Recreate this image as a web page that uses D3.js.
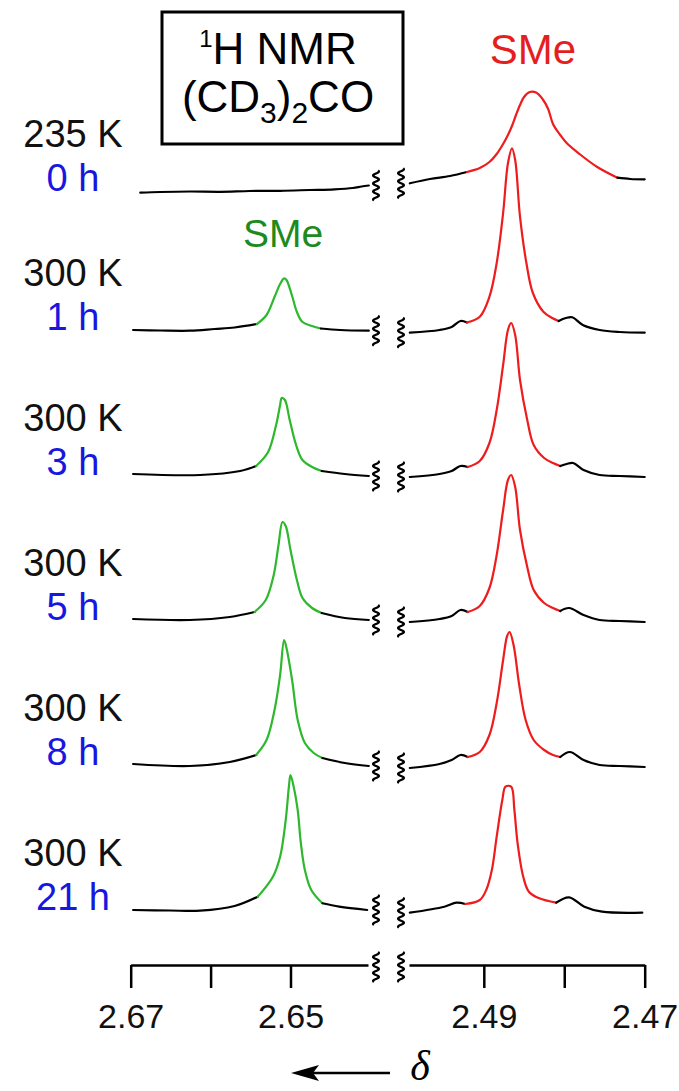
<!DOCTYPE html>
<html>
<head>
<meta charset="utf-8">
<script src="https://cdn.jsdelivr.net/npm/d3@7"></script>
<style>
  html, body { margin: 0; padding: 0; background: #fff; }
  svg { display: block; }
</style>
</head>
<body>
<svg id="chart" width="679" height="1091"></svg>
<script>
// ---- data -----------------------------------------------------------
// Row labels (top to bottom)
const temps = ["235 K", "300 K", "300 K", "300 K", "300 K", "300 K"];
const times = ["0 h", "1 h", "3 h", "5 h", "8 h", "21 h"];

// Axis ticks (ppm) and which of them carry a label
const leftTicks = [2.67, 2.66, 2.65];
const rightTicks = [2.49, 2.48, 2.47];
const labeledTicks = [2.67, 2.65, 2.49, 2.47];

// Spectra: [delta (ppm), intensity (a.u.)], low-field window
const left0 = [[2.6688,-0.7],[2.6663,0],[2.6626,0.5],[2.6588,0.2],[2.6551,1],[2.6513,1.2],[2.6476,2],[2.6445,2.7],[2.6422,4],[2.6411,5.5],[2.6402,6.5]];
const left1 = [[2.6697,1],[2.6663,0.5],[2.6626,0.3],[2.6595,2],[2.6570,3.5],[2.6542,7],[2.6530,16],[2.6520,34],[2.6513,47],[2.6508,52.7],[2.6505,51],[2.6498,35],[2.6492,19],[2.6485,9],[2.6473,5],[2.6462,2.5],[2.6438,1],[2.6402,0.3]];
const left2 = [[2.6697,2],[2.6613,1],[2.6563,5],[2.6543,10],[2.6528,24],[2.6518,51],[2.6513,71],[2.6511,78],[2.6507,76],[2.6501,56],[2.6493,31],[2.6485,16],[2.6473,9],[2.6461,5],[2.6432,2],[2.6402,0]];
const left3 = [[2.6697,2],[2.6626,1],[2.6576,4],[2.6545,9],[2.6531,21],[2.6521,46],[2.6515,76],[2.6510,99],[2.6506,95],[2.6500,71],[2.6492,41],[2.6485,23],[2.6473,13],[2.6461,8],[2.6432,3],[2.6402,1]];
const left4 = [[2.6697,2],[2.6626,0],[2.6576,4],[2.6543,11],[2.6530,26],[2.6520,56],[2.6513,91],[2.6508,126],[2.6505,118],[2.6498,86],[2.6491,46],[2.6482,23],[2.6471,13],[2.6460,8],[2.6432,3],[2.6402,0]];
const left5 = [[2.6697,1],[2.6651,0.5],[2.6613,0.3],[2.6570,5],[2.6541,14.3],[2.6522,34.3],[2.6513,54.3],[2.6506,91],[2.6502,124.3],[2.6500,136],[2.6496,124.3],[2.6491,101],[2.6487,67.7],[2.6482,41],[2.6474,21],[2.6460,7.7],[2.6439,4.3],[2.6404,1]];

// Spectra: high-field window
const right0 = [[2.4992,8.7],[2.4967,13],[2.4942,16],[2.4921,20],[2.4905,24],[2.4893,30],[2.4884,38],[2.4876,48],[2.4870,57],[2.4865,66],[2.4860,77],[2.4855,87],[2.4850,95],[2.4843,100],[2.4835,99.5],[2.4827,93],[2.4820,83],[2.4814,68],[2.4805,57],[2.4797,49],[2.4781,38],[2.4759,25],[2.4734,14.3],[2.4718,13],[2.4700,12.7]];
const right1 = [[2.4992,-1.7],[2.4955,1],[2.4940,4],[2.4929,10],[2.4921,8.5],[2.4905,14.3],[2.4893,34.3],[2.4884,68],[2.4876,118],[2.4870,167.7],[2.4865,182.7],[2.4861,171],[2.4855,114.3],[2.4847,67.7],[2.4839,38],[2.4826,19.3],[2.4815,13],[2.4807,10],[2.4798,13],[2.4790,13.7],[2.4777,6],[2.4756,1],[2.4731,-1],[2.4700,-1.7]];
const right2 = [[2.4992,-1],[2.4955,2],[2.4940,5],[2.4929,10],[2.4920,9],[2.4905,15],[2.4893,33],[2.4884,66],[2.4876,111],[2.4870,146],[2.4866,153],[2.4861,141],[2.4855,96],[2.4846,56],[2.4838,31],[2.4825,18],[2.4814,13],[2.4805,10],[2.4797,12],[2.4789,13],[2.4776,6],[2.4756,1],[2.4731,0],[2.4700,-1]];
const right3 = [[2.4992,-1],[2.4955,2],[2.4940,5],[2.4929,11],[2.4920,9],[2.4905,15],[2.4893,33],[2.4884,66],[2.4876,111],[2.4870,141],[2.4866,146],[2.4861,134],[2.4855,91],[2.4846,54],[2.4838,31],[2.4825,18],[2.4814,13],[2.4805,10],[2.4794,13],[2.4776,6],[2.4756,1],[2.4731,0],[2.4700,-1]];
const right4 = [[2.4992,-2],[2.4955,2],[2.4940,6],[2.4929,11],[2.4920,9],[2.4905,14],[2.4893,31],[2.4884,63],[2.4876,106],[2.4871,130],[2.4868,134],[2.4863,121],[2.4856,81],[2.4848,46],[2.4838,26],[2.4825,16],[2.4814,11],[2.4805,9],[2.4793,14],[2.4776,6],[2.4756,1],[2.4731,0],[2.4700,-1]];
const right5 = [[2.4992,-1.7],[2.4949,4.3],[2.4934,8.3],[2.4923,7],[2.4905,11],[2.4897,21],[2.4890,41],[2.4884,74.3],[2.4877,111],[2.4873,124.3],[2.4866,124.3],[2.4862,101],[2.4858,67.7],[2.4851,34.3],[2.4844,19.3],[2.4831,12.7],[2.4810,8.3],[2.4794,13.7],[2.4775,4.3],[2.4753,-0.7],[2.4703,-1.7]];

// Extent (ppm) of each assigned SMe resonance
const greenRanges = [null, [2.6542,2.6462], [2.6543,2.6461], [2.6545,2.6461], [2.6543,2.6460], [2.6541,2.6460]];
const redRanges = [[2.4921,2.4734], [2.4921,2.4807], [2.4920,2.4805], [2.4920,2.4805], [2.4920,2.4805], [2.4923,2.4810]];

const leftSpectra = [left0, left1, left2, left3, left4, left5];
const rightSpectra = [right0, right1, right2, right3, right4, right5];

// ---- layout ---------------------------------------------------------
const FONT = "'Liberation Sans', Arial, Helvetica, sans-serif";
const GREEN = "#2db82d", RED = "#ee1c1c", BLUE = "#1717e0";
const svg = d3.select("#chart");

const xL = d3.scaleLinear().domain([2.67, 2.6403]).range([130.7, 368]);
const xR = d3.scaleLinear().domain([2.4993, 2.47]).range([409, 644.7]);
const yI = d3.scaleLinear().domain([0, 100]).range([0, 100]);
const baseline = i => (i === 0 ? 192 : 331 + (i - 1) * 145);
const axisY = 965;

function squiggle(cx, cy) {
  const pts = d3.range(-15, 15.01, 0.5).map(t => [cx + 3 * Math.sin(t * Math.PI / 4), cy + t]);
  svg.append("path")
    .attr("d", d3.line().curve(d3.curveBasis)(pts))
    .attr("fill", "none").attr("stroke", "#000").attr("stroke-width", 2.2);
}

function drawTrace(pts, x, base, range, color) {
  const line = d3.line()
    .x(d => x(d[0]))
    .y(d => base - yI(d[1]))
    .curve(d3.curveCatmullRom.alpha(0.5));
  const segs = [];
  if (!range) {
    segs.push([pts, "#000"]);
  } else {
    const i0 = pts.findIndex(d => Math.abs(d[0] - range[0]) < 1e-6);
    const i1 = pts.findIndex(d => Math.abs(d[0] - range[1]) < 1e-6);
    segs.push([pts.slice(0, i0 + 1), "#000"]);
    segs.push([pts.slice(i0, i1 + 1), color]);
    segs.push([pts.slice(i1), "#000"]);
  }
  segs.forEach(([p, c]) => {
    if (p.length < 2) return;
    svg.append("path")
      .attr("d", line(p))
      .attr("fill", "none")
      .attr("stroke", c)
      .attr("stroke-width", 2.2)
      .attr("stroke-linejoin", "round")
      .attr("stroke-linecap", "round");
  });
}

// ---- spectra --------------------------------------------------------
leftSpectra.forEach((pts, i) => {
  const base = baseline(i);
  drawTrace(pts, xL, base, greenRanges[i], GREEN);
  drawTrace(rightSpectra[i], xR, base, redRanges[i], RED);
  const lEnd = pts[pts.length - 1];
  const rStart = rightSpectra[i][0];
  squiggle(xL.range()[1] + 8, base - yI(lEnd[1]));
  squiggle(xR.range()[0] - 8, base - yI(rStart[1]));

  // row labels
  svg.append("text")
    .attr("x", 73).attr("y", base - 45)
    .attr("text-anchor", "middle")
    .style("font-family", FONT).style("font-size", "38px")
    .attr("fill", "#111").text(temps[i]);
  svg.append("text")
    .attr("x", 73).attr("y", base - 1)
    .attr("text-anchor", "middle")
    .style("font-family", FONT).style("font-size", "38px")
    .attr("fill", BLUE).text(times[i]);
});

// ---- peak labels ----------------------------------------------------
svg.append("text").attr("x", 283).attr("y", 247).attr("text-anchor", "middle")
  .style("font-family", FONT).style("font-size", "39px").attr("fill", "#1c8a1c").text("SMe");
svg.append("text").attr("x", 533).attr("y", 64).attr("text-anchor", "middle")
  .style("font-family", FONT).style("font-size", "42px").attr("fill", "#e51f1f").text("SMe");

// ---- title box ------------------------------------------------------
svg.append("rect").attr("x", 162).attr("y", 12).attr("width", 241).attr("height", 132)
  .attr("fill", "#fff").attr("stroke", "#000").attr("stroke-width", 3);
const t1 = svg.append("text").attr("x", 278).attr("y", 64).attr("text-anchor", "middle")
  .style("font-family", FONT).style("font-size", "44px");
t1.append("tspan").style("font-size", "24px").attr("dy", -17).text("1");
t1.append("tspan").attr("dy", 17).text("H NMR");
const t2 = svg.append("text").attr("x", 278).attr("y", 112).attr("text-anchor", "middle")
  .style("font-family", FONT).style("font-size", "44px");
t2.append("tspan").text("(CD");
t2.append("tspan").style("font-size", "30px").attr("dy", 11).text("3");
t2.append("tspan").attr("dy", -11).text(")");
t2.append("tspan").style("font-size", "30px").attr("dy", 11).text("2");
t2.append("tspan").attr("dy", -11).text("CO");

// ---- axes -----------------------------------------------------------
function drawAxis(scale, ticks) {
  const ax = d3.axisBottom(scale)
    .tickValues(ticks)
    .tickSize(23)
    .tickSizeOuter(0)
    .tickFormat(d => (labeledTicks.includes(d) ? d3.format(".2f")(d) : ""));
  const g = svg.append("g").attr("transform", `translate(0,${axisY})`).call(ax);
  g.select(".domain").attr("stroke", "#000").attr("stroke-width", 2.5);
  g.selectAll(".tick line").attr("stroke", "#000").attr("stroke-width", 2.5);
  g.selectAll(".tick text")
    .attr("y", 63).attr("dy", 0)
    .attr("fill", "#111")
    .style("font-family", FONT).style("font-size", "34px");
}
drawAxis(xL, leftTicks);
drawAxis(xR, rightTicks);
squiggle(xL.range()[1] + 8, axisY + 2);
squiggle(xR.range()[0] - 8, axisY + 2);

// ---- direction of increasing shift ----------------------------------
svg.append("line").attr("x1", 310).attr("y1", 1073).attr("x2", 390).attr("y2", 1073)
  .attr("stroke", "#000").attr("stroke-width", 2.5);
svg.append("path").attr("d", "M291,1073 L319,1065 L313,1073 L319,1081 Z").attr("fill", "#000");
svg.append("text").attr("x", 420).attr("y", 1080).attr("text-anchor", "middle")
  .style("font-family", "'Liberation Serif', 'Times New Roman', serif")
  .style("font-style", "italic").style("font-size", "42px").text("δ");
</script>
</body>
</html>
